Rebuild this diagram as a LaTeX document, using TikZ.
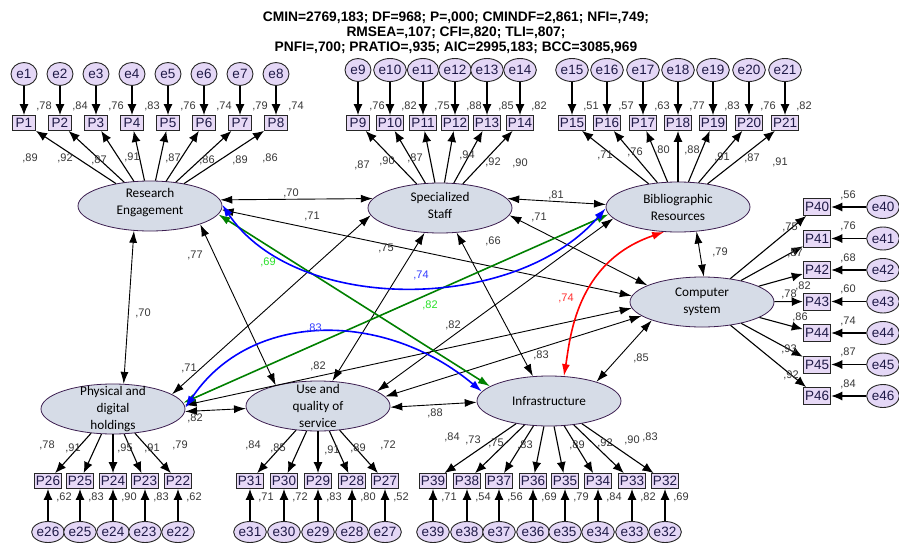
\documentclass[tikz,border=0pt]{standalone}
\usepackage{fontspec}
\setmainfont{Liberation Sans}
\newfontfamily\calib{Carlito}
\usetikzlibrary{arrows.meta,shapes.geometric}

\definecolor{latfill}{RGB}{214,220,231}
\definecolor{latdraw}{RGB}{60,30,80}
\definecolor{obsfill}{RGB}{231,217,246}
\definecolor{errfill}{RGB}{228,215,246}
\definecolor{txtnavy}{RGB}{30,25,70}
\definecolor{lblgray}{RGB}{55,55,55}
\definecolor{linkblue}{RGB}{0,0,255}
\definecolor{linkgreen}{RGB}{0,128,0}
\definecolor{lblgreen}{RGB}{40,225,40}
\definecolor{lblblue}{RGB}{50,60,255}
\definecolor{linkred}{RGB}{255,0,0}
\definecolor{lblred}{RGB}{255,50,50}

\tikzset{
  lat/.style={ellipse, draw=latdraw, line width=0.8pt, fill=latfill,
    minimum width=144pt, minimum height=50pt, inner sep=0pt},
  lattext/.style={font=\calib\fontsize{13.2}{17}\selectfont, align=center, text=black},
  obs/.style={rectangle, draw=black!85, line width=0.9pt, fill=obsfill,
    font=\fontsize{13.5}{14}\selectfont, text=txtnavy,
    inner xsep=1.8pt, inner ysep=1pt, minimum width=23pt, minimum height=15pt},
  err/.style={ellipse, draw=black!85, line width=0.9pt, fill=errfill,
    font=\fontsize{13.5}{14}\selectfont, text=txtnavy,
    inner sep=0.3pt, minimum width=26pt, minimum height=23pt},
  errb/.style={err, minimum height=21pt},
  ind/.style={-{Latex[length=11pt,width=9pt]}, line width=1.1pt},
  cor/.style={{Latex[length=12pt,width=8pt]}-{Latex[length=12pt,width=8pt]}, line width=0.9pt},
  corc/.style={{Latex[length=12pt,width=8pt]}-{Latex[length=12pt,width=8pt]}, line width=1.6pt},
  num/.style={font=\fontsize{11}{12}\selectfont, text=lblgray, inner sep=0pt},
}

\begin{document}
\begin{tikzpicture}[x=1pt,y=-1pt]
\useasboundingbox (0,0) rectangle (899,546);
\fill[white] (0,0) rectangle (899,546);

% header
\node[font=\bfseries\fontsize{13.8}{15}\selectfont, align=center] (hdr) at (456,33)
  {CMIN=2769,183; DF=968; P=,000; CMINDF=2,861; NFI=,749;\\
   RMSEA=,107; CFI=,820; TLI=,807;\\
   PNFI=,700; PRATIO=,935; AIC=2995,183; BCC=3085,969};

% latent variables
\node[lat, label={[lattext,yshift=3pt]center:{Research\\Engagement}}] (RE) at (150,206) {};
\node[lat, label={[lattext,yshift=3pt]center:{Specialized\\Staff}}] (SS) at (440,208) {};
\node[lat, label={[lattext]center:{Bibliographic\\Resources}}] (BR) at (678,207) {};
\node[lat, label={[lattext]center:{Computer\\system}}] (CS) at (702,302) {};
\node[lat, label={[lattext]center:{Physical and\\digital\\holdings}}] (PD) at (113,409) {};
\node[lat, label={[lattext]center:{Use and\\quality of\\service}}] (UQ) at (318,406) {};
\node[lat, label={[lattext]center:{Infrastructure}}] (IN) at (549,401) {};

% Research Engagement indicators
\foreach \i/\x/\r in {1/24/78,2/60/84,3/96/76,4/132/83,5/168/76,6/204/74,7/240/79,8/276/74}{
  \node[obs] (P\i) at (\x,123) {P\i};
  \node[err] (e\i) at (\x,74) {e\i};
  \node[num] (r\i) at (\x+20,106) {,\r};
  \draw[ind] (e\i) -- (P\i);
  \draw[ind] (RE) -- (P\i);
}
% Specialized Staff indicators
\foreach \i/\x/\r in {9/358/76,10/390/82,11/423/75,12/455/88,13/487/85,14/520/82}{
  \node[obs] (P\i) at (\x,123) {P\i};
  \node[err] (e\i) at (\x,70) {e\i};
  \node[num] (r\i) at (\x+19,106) {,\r};
  \draw[ind] (e\i) -- (P\i);
  \draw[ind] (SS) -- (P\i);
}
% Bibliographic Resources indicators
\foreach \i/\x/\r in {15/572/51,16/607/57,17/643/63,18/678/77,19/713/83,20/749/76,21/785/82}{
  \node[obs] (P\i) at (\x,123) {P\i};
  \node[err] (e\i) at (\x,70) {e\i};
  \node[num] (r\i) at (\x+19,106) {,\r};
  \draw[ind] (e\i) -- (P\i);
  \draw[ind] (BR) -- (P\i);
}
% Computer system indicators
\foreach \i/\y/\r in {40/207/56,41/238.5/76,42/270/68,43/301.5/60,44/333/74,45/364.5/87,46/396/84}{
  \node[obs, minimum height=17pt] (P\i) at (817,\y) {P\i};
  \node[err] (e\i) at (883,\y) {e\i};
  \node[num] (r\i) at (848,\y-12) {,\r};
  \draw[ind] (e\i) -- (P\i);
  \draw[ind] (CS) -- (P\i);
}
% Physical and digital holdings indicators
\foreach \i/\x/\r in {26/48/62,25/80/83,24/113/90,23/145/83,22/178/62}{
  \node[obs] (P\i) at (\x,481) {P\i};
  \node[errb] (e\i) at (\x,532) {e\i};
  \node[num] (r\i) at (\x+16,497) {,\r};
  \draw[ind] (e\i) -- (P\i);
  \draw[ind] (PD) -- (P\i);
}
% Use and quality of service indicators
\foreach \i/\x/\r in {31/250/71,30/284/72,29/318/83,28/352/80,27/385/52}{
  \node[obs] (P\i) at (\x,481) {P\i};
  \node[errb] (e\i) at (\x,532) {e\i};
  \node[num] (r\i) at (\x+16,497) {,\r};
  \draw[ind] (e\i) -- (P\i);
  \draw[ind] (UQ) -- (P\i);
}
% Infrastructure indicators
\foreach \i/\x/\r in {39/433/71,38/467/54,37/499/56,36/533/69,35/565/79,34/598/84,33/632/82,32/665/69}{
  \node[obs] (P\i) at (\x,481) {P\i};
  \node[errb] (e\i) at (\x,532) {e\i};
  \node[num] (r\i) at (\x+16,497) {,\r};
  \draw[ind] (e\i) -- (P\i);
  \draw[ind] (IN) -- (P\i);
}

% loadings
\foreach \x/\y/\v [count=\k] in {30/158/89,65/158/92,99/160/87,132/157/91,173/158/87,207/160/86,240/160/89,270/158/86,
  362/165/87,387/161/90,415/158/87,467/155/94,493/162/92,520/163/90,
  605/155/71,635/152/76,662/150/80,692/150/88,722/157/91,752/158/87,780/162/91,
  790/227/75,795/253/87,803/286/82,789/294/78,800/317/86,789/349/93,791/375/92,
  47/445/78,73/448/91,125/448/95,152/448/91,180/445/79,
  253/445/84,278/448/85,332/450/91,358/448/89,388/445/72,
  452/437/84,473/440/73,496/443/75,525/445/83,577/445/89,605/443/92,632/440/90,650/437/83}{
  \node[num] (ld\k) at (\x,\y) {,\v};
}

% correlations among latent variables
\draw[cor] (RE.5) -- (SS.172);
\draw[cor] (RE.-3) -- (CS.175);
\draw[cor] (RE.237) -- (PD.67);
\draw[cor] (RE.-20) -- (UQ.154);
\draw[cor] (SS.8) -- (BR.178);
\draw[cor] (SS.-6) -- (CS.163);
\draw[cor] (SS.186) -- (PD.14);
\draw[cor] (SS.238) -- (UQ.60);
\draw[cor] (SS.-56) -- (IN.123);
\draw[cor] (BR.190) -- (UQ.14);
\draw[cor] (BR.-53) -- (CS.86);
\draw[cor] (PD.3) -- (CS.185);
\draw[cor] (PD.-2) -- (UQ.182);
\draw[cor] (UQ.8) -- (CS.193);
\draw[cor] (UQ.-1) -- (IN.181);
\draw[cor] (CS.200) -- (IN.22);
\draw[corc, linkgreen] (RE.-7) -- (IN.166);
\draw[corc, linkgreen] (BR.186) -- (PD.5);
\draw[corc, linkblue] (RE.1) .. controls (295,314) and (515,314) .. (BR.181);
\draw[corc, linkblue] (PD.1) .. controls (250,310) and (385,310) .. (IN.172);
\draw[corc, linkred] (BR.241) .. controls (575,262) and (570,340) .. (IN.59);

% correlation labels
\node[num] (k1) at (291,193) {,70};
\node[num] (k2) at (312,216) {,71};
\node[num] (k3) at (195,255) {,77};
\node[num, text=lblgreen] (k4) at (268,262) {,69};
\node[num, text=lblblue] (k5) at (421,275) {,74};
\node[num] (k6) at (386,248) {,75};
\node[num] (k7) at (493,241) {,66};
\node[num] (k8) at (556,195) {,81};
\node[num] (k9) at (539,217) {,71};
\node[num] (k10) at (143,313) {,70};
\node[num, text=lblgreen] (k11) at (430,305) {,82};
\node[num] (k12) at (453,325) {,82};
\node[num, text=lblred] (k13) at (566,298) {,74};
\node[num, text=lblblue] (k14) at (314,328) {,83};
\node[num] (k15) at (189,368) {,71};
\node[num] (k16) at (318,366) {,82};
\node[num] (k17) at (541,355) {,83};
\node[num] (k18) at (641,358) {,85};
\node[num] (k19) at (720,252) {,79};
\node[num] (k20) at (195,418) {,82};
\node[num] (k21) at (435,413) {,88};
\end{tikzpicture}
\end{document}
